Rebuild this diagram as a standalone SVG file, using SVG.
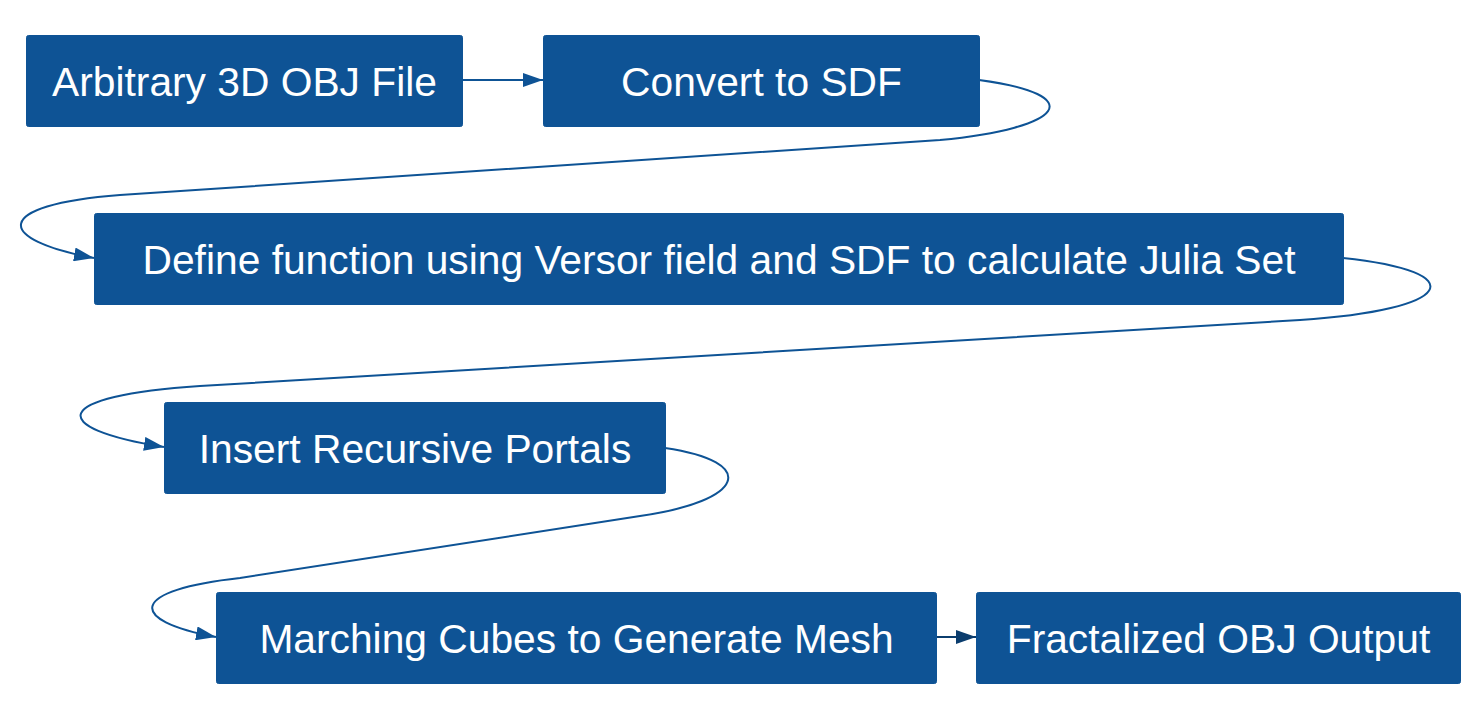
<svg xmlns="http://www.w3.org/2000/svg" width="1482" height="724" viewBox="0 0 1482 724">
<style>
.box{fill:#0e5395;stroke:#0e5395;stroke-width:1}
.lbl{fill:#ffffff;font-family:"Liberation Sans",Arial,sans-serif;font-size:40.75px;text-anchor:middle}
.edge{fill:none;stroke:#0e5395;stroke-width:2}
.edge2{fill:none;stroke:#0b3d6e;stroke-width:2}
</style>
<defs>
<marker id="ah" viewBox="0 0 20 14" refX="20" refY="7" markerWidth="20" markerHeight="14" markerUnits="userSpaceOnUse" orient="auto">
<path d="M0,0 L20,7 L0,14 Z" fill="#0e5395"/>
</marker>
<marker id="ah2" viewBox="0 0 20 14" refX="20" refY="7" markerWidth="20" markerHeight="14" markerUnits="userSpaceOnUse" orient="auto">
<path d="M0,0 L20,7 L0,14 Z" fill="#0b3d6e"/>
</marker>
</defs>
<rect width="1482" height="724" fill="#ffffff"/>
<g id="connectors">
<path class="edge" d="M462,80 L543,80" marker-end="url(#ah)"/>
<path class="edge" d="M979,80 C1090,95 1065,128 940,140 L120,195 C-10,205 -5,240 94,258" marker-end="url(#ah)"/>
<path class="edge" d="M1343,258 C1475,272 1455,310 1300,320 L200,386 C50,396 45,428 164,447" marker-end="url(#ah)"/>
<path class="edge" d="M665,448 C760,462 745,501 640,516 L240,578 C130,590 125,620 216,637" marker-end="url(#ah)"/>
<path class="edge2" d="M936,637 L976,637" marker-end="url(#ah2)"/>
</g>
<g id="n1"><rect class="box" x="26.5" y="35.5" width="436" height="91" rx="2"/><text class="lbl" x="244.5" y="95.5">Arbitrary 3D OBJ File</text></g>
<g id="n2"><rect class="box" x="543.5" y="35.5" width="436" height="91" rx="2"/><text class="lbl" x="761.5" y="95.5">Convert to SDF</text></g>
<g id="n3"><rect class="box" x="94.5" y="213.5" width="1249" height="91" rx="2"/><text class="lbl" x="719" y="273.5">Define function using Versor field and SDF to calculate Julia Set</text></g>
<g id="n4"><rect class="box" x="164.5" y="402.5" width="501" height="91" rx="2"/><text class="lbl" x="415" y="462.5">Insert Recursive Portals</text></g>
<g id="n5"><rect class="box" x="216.5" y="592.5" width="720" height="91" rx="2"/><text class="lbl" x="576.5" y="652.5">Marching Cubes to Generate Mesh</text></g>
<g id="n6"><rect class="box" x="976.5" y="592.5" width="484" height="91" rx="2"/><text class="lbl" x="1218.5" y="652.5">Fractalized OBJ Output</text></g>
</svg>
